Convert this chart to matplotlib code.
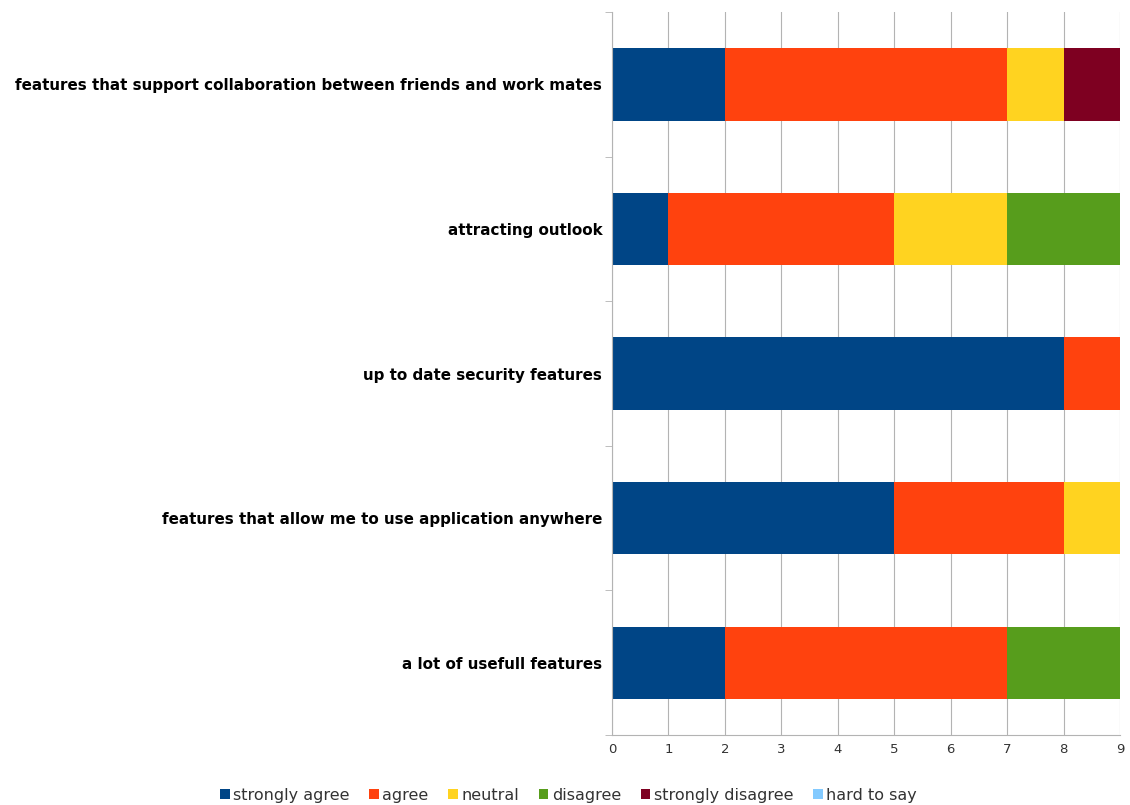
import numpy as np
import matplotlib
matplotlib.use("Agg")
import matplotlib.pyplot as plt

# dados do grafico (de cima para baixo)
categorias = ["features that support collaboration between friends and work mates",
              "attracting outlook",
              "up to date security features",
              "features that allow me to use application anywhere",
              "a lot of usefull features"]
series = ["strongly agree", "agree", "neutral", "disagree", "strongly disagree", "hard to say"]
cores = ["#004586", "#ff420e", "#ffd320", "#579d1c", "#7e0021", "#83caff"]
strongly_agree = [2, 1, 8, 5, 2]
agree = [5, 4, 1, 3, 5]
neutral = [1, 2, 0, 1, 0]
disagree = [0, 2, 0, 0, 2]
strongly_disagree = [1, 0, 0, 0, 0]
hard_to_say = [0, 0, 0, 0, 0]
valores = [strongly_agree, agree, neutral, disagree, strongly_disagree, hard_to_say]

fig = plt.figure(figsize=(11.3, 8.05), dpi=100)
ax = fig.add_axes([0.5416, 0.087, 0.4496, 0.898])

y = np.arange(len(categorias))[::-1]
base = np.zeros(len(categorias))
for nome, cor, v in zip(series, cores, valores):
    ax.barh(y, v, left=base, height=0.5, color=cor, label=nome, zorder=2)
    base += np.array(v)

ax.set_xlim(0, 9)
ax.set_ylim(-0.5, len(categorias) - 0.5)
ax.set_xticks(range(10))
ax.grid(axis="x", color="#b3b3b3", linewidth=0.8, zorder=0)
ax.set_yticks(y)
ax.set_yticklabels(categorias, fontweight="bold", fontsize=10.9, color="#000000")
ax.set_yticks(np.arange(-0.5, len(categorias)), minor=True)
ax.tick_params(axis="y", which="major", length=0, pad=7)
ax.tick_params(axis="y", which="minor", length=5, color="#b3b3b3")
ax.tick_params(axis="x", length=0, labelsize=9.5, labelcolor="#333333", pad=6)
for s in ["top", "right"]:
    ax.spines[s].set_visible(False)
for s in ["left", "bottom"]:
    ax.spines[s].set_color("#b3b3b3")

fig.legend(loc="lower center", bbox_to_anchor=(0.503, -0.015), ncol=6, frameon=False,
           fontsize=11.5, handlelength=0.6, handleheight=0.6, handletextpad=0.2,
           columnspacing=1.25, labelcolor="#333333")

plt.savefig("out.png", dpi=100)
